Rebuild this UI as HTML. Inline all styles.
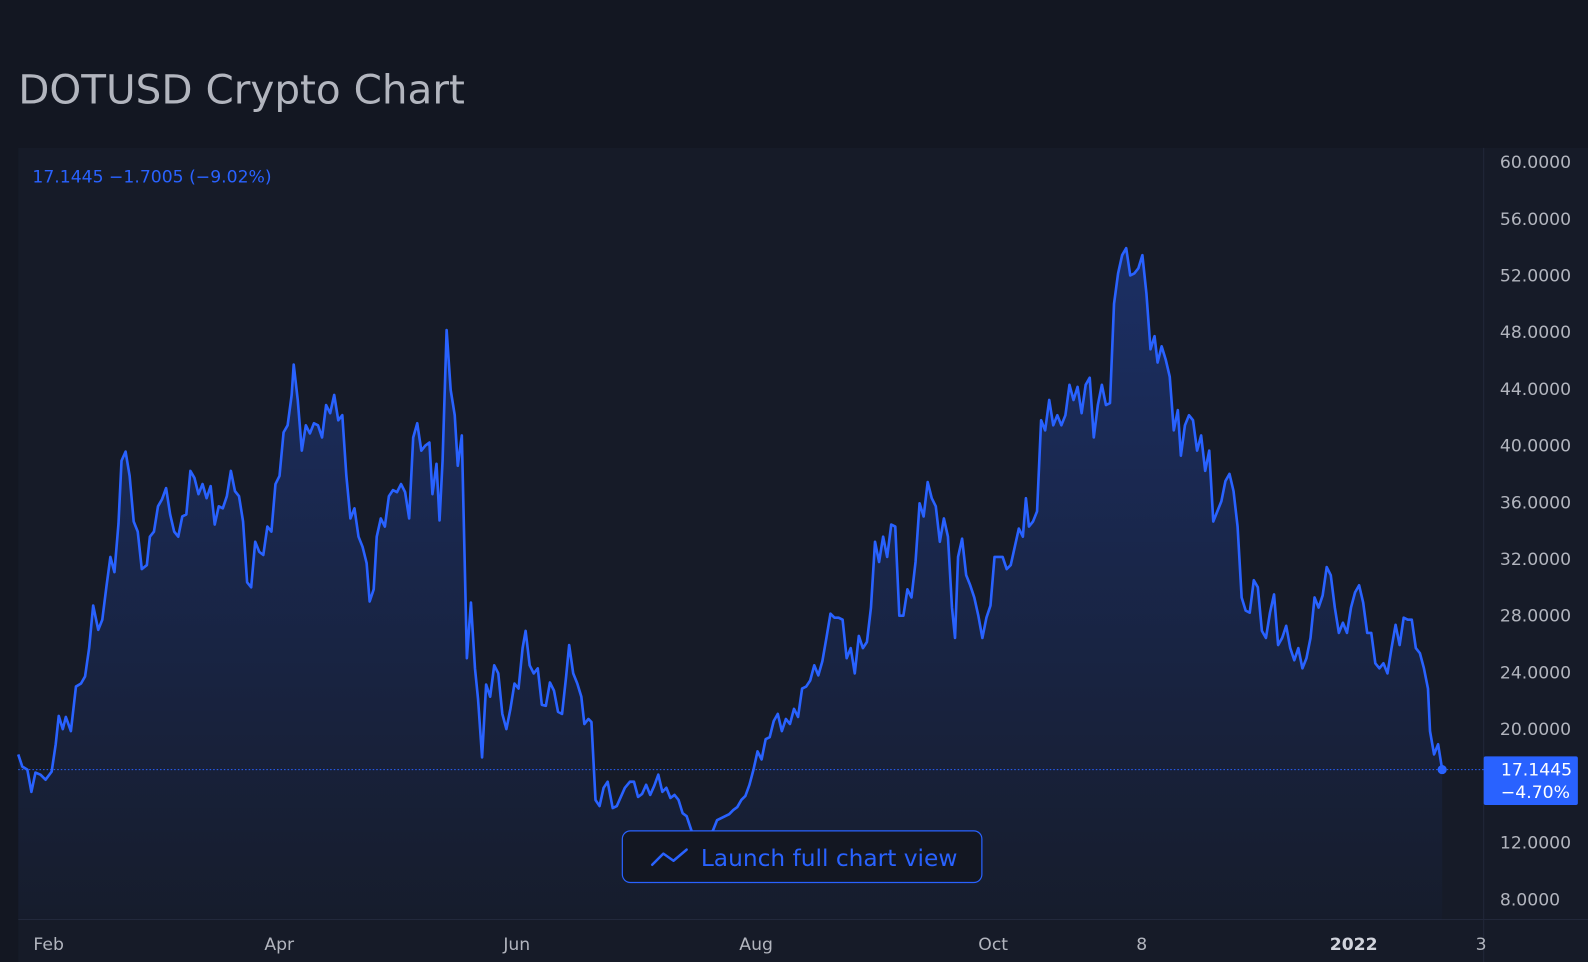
<!DOCTYPE html>
<html><head><meta charset="utf-8"><style>
html,body{margin:0;padding:0;background:#131722;width:1588px;height:962px;overflow:hidden}
svg{display:block}
text{font-family:"DejaVu Sans","Liberation Sans",sans-serif}
</style></head><body>
<svg width="1588" height="962" viewBox="0 0 1568 950" preserveAspectRatio="none">
<defs>
<linearGradient id="g" gradientUnits="userSpaceOnUse" x1="0" y1="240" x2="0" y2="908">
<stop offset="0" stop-color="#2962ff" stop-opacity="0.28"/>
<stop offset="1" stop-color="#2962ff" stop-opacity="0.02"/>
</linearGradient>
</defs>
<rect width="1568" height="950" fill="#131722"/>
<rect x="18" y="146" width="1550" height="804" fill="#161b28"/>
<text x="18" y="102" font-size="40" fill="#b2b5be">DOTUSD Crypto Chart</text>
<line x1="1465" y1="146" x2="1465" y2="950" stroke="#22283a" stroke-width="1"/>
<line x1="18" y1="908" x2="1568" y2="908" stroke="#22283a" stroke-width="1"/>
<text x="32" y="180" font-size="17" fill="#2962ff">17.1445 −1.7005 (−9.02%)</text>
<g font-size="17" fill="#b2b5be">
<text x="1481" y="166">60.0000</text><text x="1481" y="222">56.0000</text><text x="1481" y="278">52.0000</text><text x="1481" y="334">48.0000</text><text x="1481" y="390">44.0000</text><text x="1481" y="446">40.0000</text><text x="1481" y="502">36.0000</text><text x="1481" y="558">32.0000</text><text x="1481" y="614">28.0000</text><text x="1481" y="670">24.0000</text><text x="1481" y="726">20.0000</text><text x="1481" y="838">12.0000</text><text x="1481" y="894">8.0000</text>
<text x="33" y="938">Feb</text><text x="261" y="938">Apr</text><text x="497" y="938">Jun</text><text x="730" y="938">Aug</text><text x="966" y="938">Oct</text><text x="1122" y="938">8</text><text x="1313" y="938" font-weight="bold" fill="#d1d4dc">2022</text><text x="1457" y="938">3</text>
</g>
<g id="s">
<polygon fill="url(#g)" points="18,908 18,745 22,757 27,760 31,782 35,763 40,765 45,770 51,762 55,735 58,707 62,720 65,708 70,722 75,678 80,675 84,668 88,640 92,598 97,622 101,612 105,580 109,550 113,565 117,517 120,455 124,446 128,470 132,515 136,525 140,562 145,558 148,530 152,525 156,500 160,493 164,482 168,508 172,525 176,530 180,510 184,508 188,465 192,472 196,488 200,478 204,492 208,480 212,518 216,500 220,502 224,490 228,465 232,485 236,490 240,515 244,575 248,580 252,535 256,545 260,548 264,520 268,525 272,478 276,470 280,427 284,420 288,390 290,360 294,395 298,445 302,420 306,428 310,418 314,420 318,432 322,400 326,408 330,390 334,415 338,410 342,470 346,512 350,502 354,530 358,540 362,556 365,594 369,582 372,530 376,512 380,520 384,490 388,484 392,486 396,478 400,486 404,512 408,432 412,418 416,445 420,440 424,437 427,488 431,458 434,514 437,455 441,326 445,385 449,410 452,460 456,430 461,650 465,595 469,660 472,690 476,748 480,676 484,688 488,657 492,665 496,705 500,720 504,700 508,675 512,680 516,640 519,623 523,657 527,665 531,660 535,696 539,697 543,674 547,682 551,703 555,705 559,668 562,637 566,665 570,675 574,688 577,715 581,710 584,713 588,790 592,796 596,778 600,772 605,798 609,796 613,787 617,778 622,772 626,772 630,787 634,784 638,775 642,785 646,776 650,765 654,782 658,778 662,788 666,785 670,790 674,803 678,806 682,818 686,830 695,835 704,820 708,810 712,808 716,806 720,804 724,800 728,797 732,790 736,786 740,775 744,760 748,742 752,750 756,730 760,728 764,712 768,705 772,722 776,710 780,715 784,700 788,708 792,680 796,678 800,672 804,657 808,667 812,653 816,630 820,606 824,610 828,610 832,612 836,650 840,640 844,665 848,628 852,640 856,634 860,600 864,535 868,555 872,530 876,550 880,518 884,520 888,608 892,608 896,582 900,590 904,555 908,497 912,510 916,476 920,492 924,500 928,535 932,512 936,530 940,600 943,630 946,550 950,532 954,568 958,578 962,590 966,608 970,630 974,610 978,598 982,550 986,550 990,550 994,562 998,558 1002,540 1006,522 1010,530 1013,492 1016,520 1020,515 1024,505 1028,415 1032,425 1036,395 1040,420 1044,410 1048,420 1052,410 1056,380 1060,395 1064,382 1068,408 1072,380 1076,373 1080,432 1084,400 1088,380 1092,400 1096,398 1100,300 1104,270 1108,252 1112,245 1116,272 1120,270 1124,265 1128,252 1132,290 1136,345 1140,332 1143,358 1147,342 1151,355 1155,372 1159,425 1163,405 1166,450 1170,420 1174,410 1178,415 1182,445 1186,430 1190,465 1194,445 1198,515 1202,505 1206,495 1210,475 1214,468 1218,485 1222,520 1226,590 1230,603 1234,605 1238,573 1242,580 1246,623 1250,630 1254,605 1258,587 1262,637 1266,630 1270,618 1274,640 1278,652 1282,640 1286,660 1290,650 1294,630 1298,590 1302,600 1306,588 1310,560 1314,568 1318,600 1322,625 1326,615 1330,625 1334,600 1338,585 1342,578 1346,595 1350,625 1354,625 1358,655 1362,660 1366,655 1370,665 1374,640 1378,617 1382,637 1386,610 1390,612 1394,612 1398,640 1402,645 1406,660 1410,680 1412,722 1416,745 1420,735 1424,760 1424,908"/>
<polyline fill="none" stroke="#2962ff" stroke-width="2.6" stroke-linejoin="round" points="18,745 22,757 27,760 31,782 35,763 40,765 45,770 51,762 55,735 58,707 62,720 65,708 70,722 75,678 80,675 84,668 88,640 92,598 97,622 101,612 105,580 109,550 113,565 117,517 120,455 124,446 128,470 132,515 136,525 140,562 145,558 148,530 152,525 156,500 160,493 164,482 168,508 172,525 176,530 180,510 184,508 188,465 192,472 196,488 200,478 204,492 208,480 212,518 216,500 220,502 224,490 228,465 232,485 236,490 240,515 244,575 248,580 252,535 256,545 260,548 264,520 268,525 272,478 276,470 280,427 284,420 288,390 290,360 294,395 298,445 302,420 306,428 310,418 314,420 318,432 322,400 326,408 330,390 334,415 338,410 342,470 346,512 350,502 354,530 358,540 362,556 365,594 369,582 372,530 376,512 380,520 384,490 388,484 392,486 396,478 400,486 404,512 408,432 412,418 416,445 420,440 424,437 427,488 431,458 434,514 437,455 441,326 445,385 449,410 452,460 456,430 461,650 465,595 469,660 472,690 476,748 480,676 484,688 488,657 492,665 496,705 500,720 504,700 508,675 512,680 516,640 519,623 523,657 527,665 531,660 535,696 539,697 543,674 547,682 551,703 555,705 559,668 562,637 566,665 570,675 574,688 577,715 581,710 584,713 588,790 592,796 596,778 600,772 605,798 609,796 613,787 617,778 622,772 626,772 630,787 634,784 638,775 642,785 646,776 650,765 654,782 658,778 662,788 666,785 670,790 674,803 678,806 682,818 686,830 695,835 704,820 708,810 712,808 716,806 720,804 724,800 728,797 732,790 736,786 740,775 744,760 748,742 752,750 756,730 760,728 764,712 768,705 772,722 776,710 780,715 784,700 788,708 792,680 796,678 800,672 804,657 808,667 812,653 816,630 820,606 824,610 828,610 832,612 836,650 840,640 844,665 848,628 852,640 856,634 860,600 864,535 868,555 872,530 876,550 880,518 884,520 888,608 892,608 896,582 900,590 904,555 908,497 912,510 916,476 920,492 924,500 928,535 932,512 936,530 940,600 943,630 946,550 950,532 954,568 958,578 962,590 966,608 970,630 974,610 978,598 982,550 986,550 990,550 994,562 998,558 1002,540 1006,522 1010,530 1013,492 1016,520 1020,515 1024,505 1028,415 1032,425 1036,395 1040,420 1044,410 1048,420 1052,410 1056,380 1060,395 1064,382 1068,408 1072,380 1076,373 1080,432 1084,400 1088,380 1092,400 1096,398 1100,300 1104,270 1108,252 1112,245 1116,272 1120,270 1124,265 1128,252 1132,290 1136,345 1140,332 1143,358 1147,342 1151,355 1155,372 1159,425 1163,405 1166,450 1170,420 1174,410 1178,415 1182,445 1186,430 1190,465 1194,445 1198,515 1202,505 1206,495 1210,475 1214,468 1218,485 1222,520 1226,590 1230,603 1234,605 1238,573 1242,580 1246,623 1250,630 1254,605 1258,587 1262,637 1266,630 1270,618 1274,640 1278,652 1282,640 1286,660 1290,650 1294,630 1298,590 1302,600 1306,588 1310,560 1314,568 1318,600 1322,625 1326,615 1330,625 1334,600 1338,585 1342,578 1346,595 1350,625 1354,625 1358,655 1362,660 1366,655 1370,665 1374,640 1378,617 1382,637 1386,610 1390,612 1394,612 1398,640 1402,645 1406,660 1410,680 1412,722 1416,745 1420,735 1424,760"/>
</g>
<line x1="18" y1="760" x2="1465" y2="760" stroke="#2962ff" stroke-width="1" stroke-dasharray="1.5 2"/>
<circle cx="1424" cy="760" r="4.5" fill="#2962ff"/>
<rect x="1465" y="747" width="93" height="48" rx="2" fill="#2962ff"/>
<text x="1482" y="766" font-size="17" fill="#ffffff">17.1445</text>
<text x="1482" y="788" font-size="17" fill="#ffffff">−4.70%</text>
<rect x="614.5" y="820.5" width="355" height="51" rx="8" fill="#131722" stroke="#2962ff" stroke-width="1.2"/>
<polyline points="644,854 655,843 665,850 678,839" fill="none" stroke="#2962ff" stroke-width="2.5" stroke-linejoin="round" stroke-linecap="round"/>
<text x="692" y="855" font-size="23" fill="#2962ff">Launch full chart view</text>
</svg>
</body></html>
